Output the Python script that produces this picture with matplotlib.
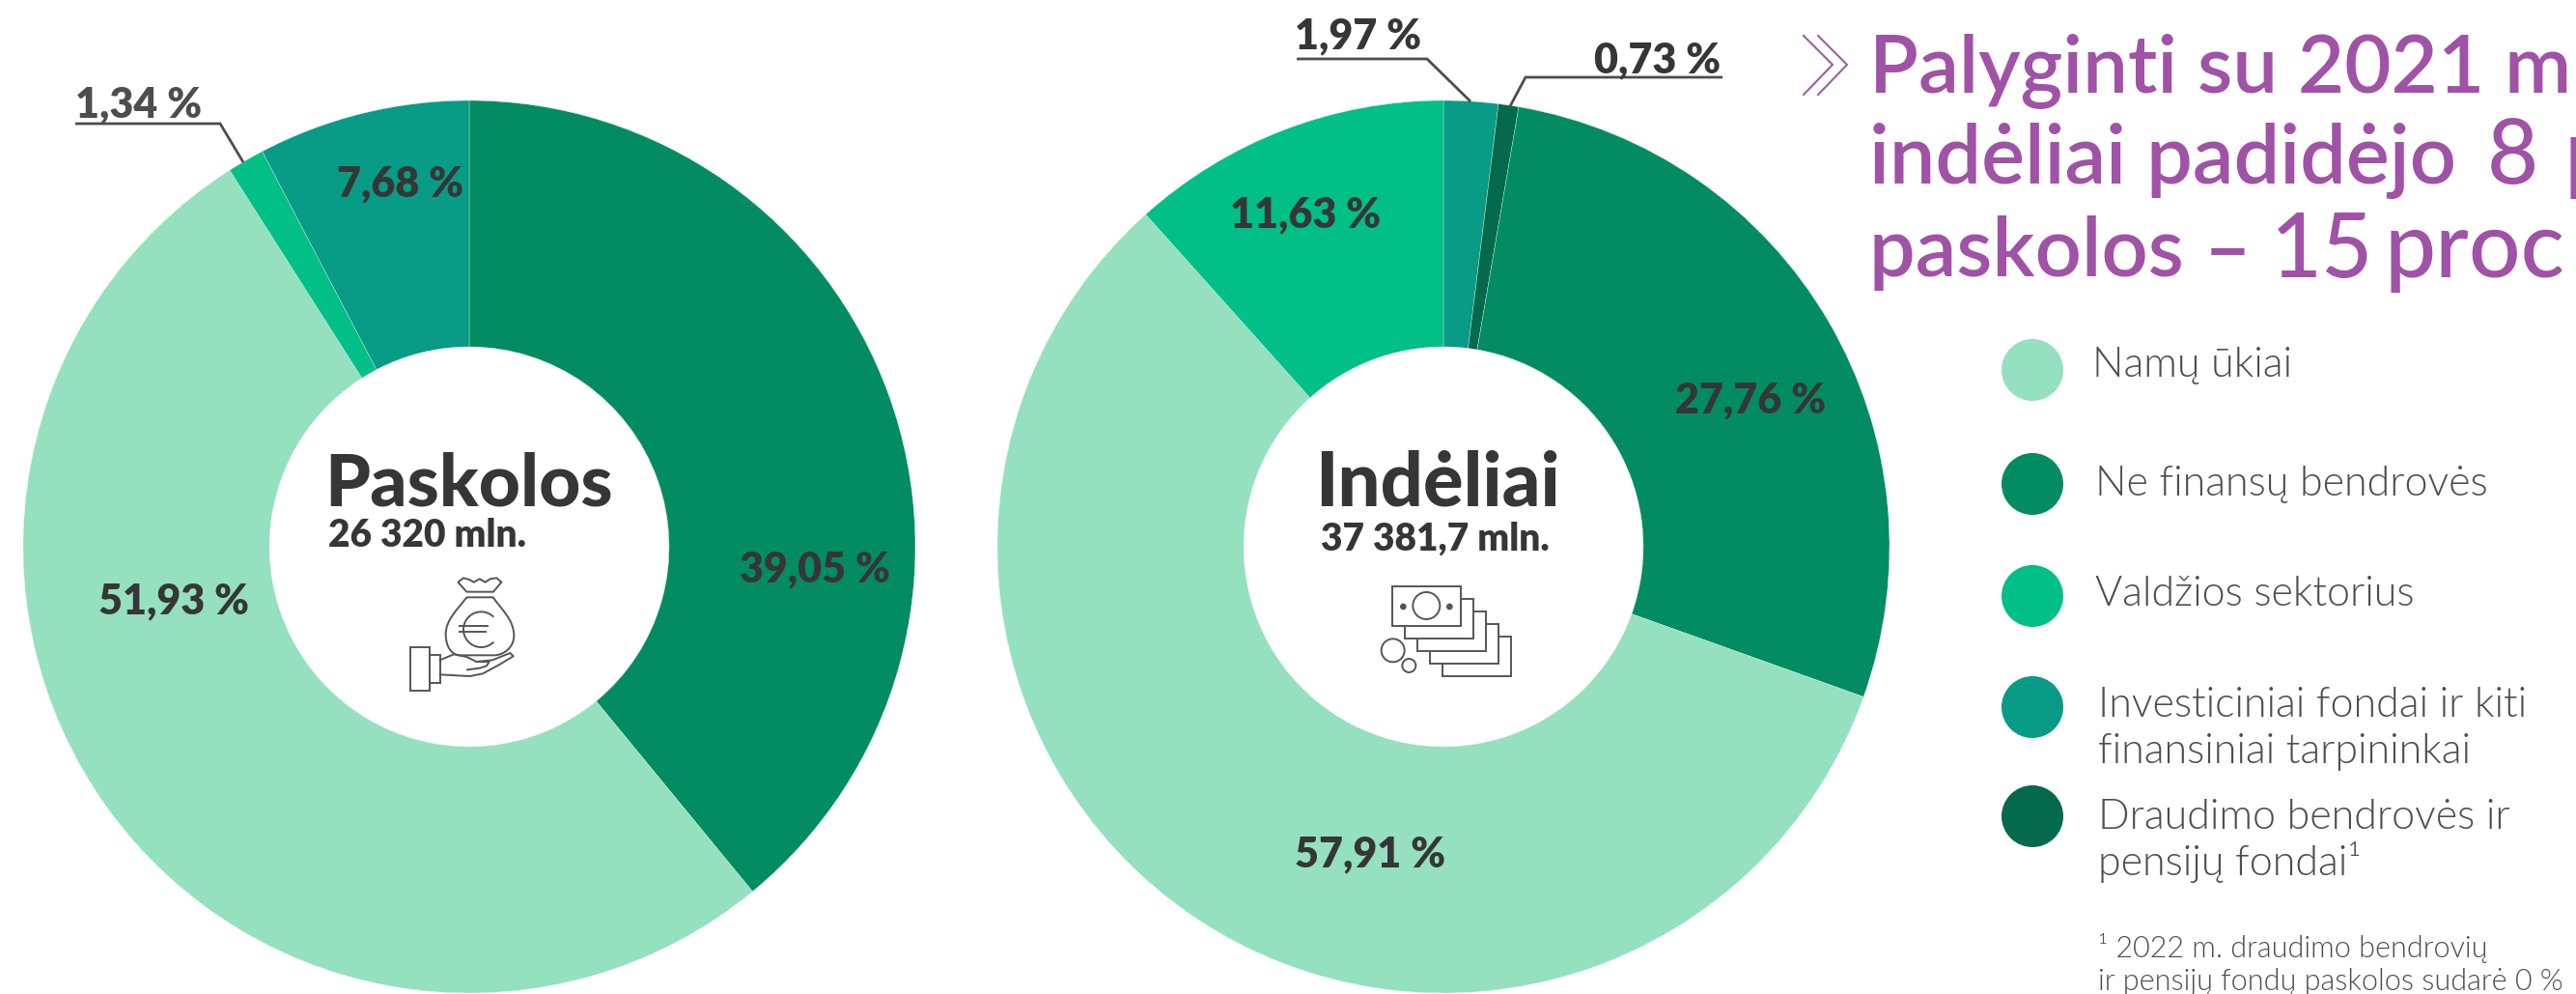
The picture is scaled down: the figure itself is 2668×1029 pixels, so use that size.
import matplotlib
matplotlib.use("Agg")
import matplotlib.pyplot as plt
from matplotlib.patches import Circle, Rectangle, Arc, PathPatch
from matplotlib.path import Path

W, H = 2668, 1029

categories = ["Namų ūkiai", "Ne finansų bendrovės", "Valdžios sektorius",
              "Investiciniai fondai ir kiti\nfinansiniai tarpininkai",
              "Draudimo bendrovės ir\npensijų fondai¹"]
colors = ["#94E0BF", "#038C62", "#00BF87", "#089B86", "#046A4B"]

# clockwise from 12 o'clock, indexes go into categories/colors
loan_values = [39.05, 51.93, 1.34, 7.68]
loan_cats = [1, 0, 2, 3]
deposit_values = [1.97, 0.73, 27.76, 57.91, 11.63]
deposit_cats = [3, 4, 1, 0, 2]

footnote = ["¹ 2022 m. draudimo bendrovių", "ir pensijų fondų paskolos sudarė 0 %"]

DARK = "#363636"
LINE = "#4D4D4D"
ICON = "#555555"
PURPLE = "#A052A6"
FONT = "Lato"


def pct(v):
    return f"{v:.2f}".replace(".", ",") + " %"


def donut(cx, cy, r, hole, values, cats):
    ax = fig.add_axes([(cx - r) / W, 1 - (cy + r) / H, 2 * r / W, 2 * r / H])
    ax.pie(values, colors=[colors[c] for c in cats], startangle=90, counterclock=False,
           radius=1, wedgeprops=dict(width=1 - hole / r, edgecolor="#D8F2E6", linewidth=0.25))
    ax.set_xlim(-1, 1)
    ax.set_ylim(-1, 1)
    ax.axis("off")


def label(x, y, s, size=31, color=DARK, weight=800, ha="left"):
    ov.text(x, y, s, fontsize=size, color=color, fontweight=weight, family=FONT, ha=ha, va="baseline")


def leader(xs, ys):
    ov.plot(xs, ys, color=LINE, lw=2.0, solid_capstyle="butt", solid_joinstyle="miter")


def money_bag(ox, oy):
    def p(x, y):
        return (ox + x / 3, oy + y / 3)
    st = dict(fill=False, edgecolor=ICON, lw=1.4)
    knot = [(583, 548), (600, 535), (618, 540), (632, 548), (650, 538), (668, 548),
            (683, 538), (703, 535), (718, 548), (693, 578), (610, 578), (583, 548)]
    ov.add_patch(PathPatch(Path([p(*k) for k in knot]), **st))
    verts = [(610, 595), (692, 595), (720, 635), (757, 665), (757, 715),
             (757, 750), (725, 775), (695, 775), (590, 775),
             (565, 775), (545, 750), (545, 710), (545, 665), (580, 635), (610, 595)]
    codes = [1, 2, 4, 4, 4, 4, 4, 4, 2, 4, 4, 4, 4, 4, 4]
    ov.add_patch(PathPatch(Path([p(*v) for v in verts], codes), **st))
    cx, cy = p(655, 695)
    ov.add_patch(Arc((cx, cy), 110 / 3, 110 / 3, theta1=45, theta2=315, color=ICON, lw=1.4))
    ov.plot(*zip(p(588, 685), p(675, 685)), color=ICON, lw=1.4)
    ov.plot(*zip(p(588, 703), p(668, 703)), color=ICON, lw=1.4)
    # hand and cuff
    ov.add_patch(Rectangle(p(435, 750), 20, 45, **st))
    ov.add_patch(Rectangle(p(495, 775), 32 / 3, 85 / 3, **st))
    palm = [(527, 790), (570, 772), (610, 780), (640, 795), (680, 795), (672, 808), (650, 815),
            (612, 820)]
    ov.plot(*zip(*[p(*v) for v in palm]), color=ICON, lw=1.4)
    fingers = [(640, 795), (690, 790), (745, 768), (755, 778), (710, 805), (660, 832),
               (620, 840), (527, 835)]
    ov.plot(*zip(*[p(*v) for v in fingers]), color=ICON, lw=1.4)


def banknotes(ox, oy):
    def p(x, y):
        return (ox + x / 3, oy + y / 3)
    st = dict(facecolor="white", edgecolor=ICON, lw=1.4)
    for i in [4, 3, 2, 1, 0]:
        ov.add_patch(Rectangle(p(485 + 39 * i, 560 + 39 * i), 215 / 3, 124 / 3, **st))
    ov.add_patch(Circle(p(592, 621), 42 / 3, fill=False, edgecolor=ICON, lw=1.4))
    ov.add_patch(Circle(p(520, 624), 8 / 3, color=ICON))
    ov.add_patch(Circle(p(664, 624), 8 / 3, color=ICON))
    ov.add_patch(Circle(p(488, 760), 36 / 3, fill=False, edgecolor=ICON, lw=1.4))
    ov.add_patch(Circle(p(538, 807), 21 / 3, fill=False, edgecolor=ICON, lw=1.4))


fig = plt.figure(figsize=(W / 100, H / 100), dpi=100, facecolor="white")

donut(486, 566, 462, 207, loan_values, loan_cats)
donut(1495, 566, 462, 207, deposit_values, deposit_cats)

ov = fig.add_axes([0, 0, 1, 1], facecolor="none")
ov.set_xlim(0, W)
ov.set_ylim(H, 0)
ov.axis("off")

# loans labels
label(766, 602, pct(loan_values[0]))
label(102, 635, pct(loan_values[1]))
label(78, 121, pct(loan_values[2]), color=LINE)
label(349, 203, pct(loan_values[3]))
leader([78, 228, 252], [128, 128, 168])

# deposits labels
label(1341, 50, pct(deposit_values[0]))
label(1651, 75, pct(deposit_values[1]))
label(1735, 427, pct(deposit_values[2]))
label(1341, 897, pct(deposit_values[3]))
label(1274, 235, pct(deposit_values[4]))
leader([1343, 1478, 1523], [61, 61, 105])
leader([1784, 1580, 1564], [80, 80, 110])

# centre captions
label(336, 523, "Paskolos", size=54, weight=900)
label(340, 566, "26 320 mln.", size=28)
label(1362, 524, "Indėliai", size=56, weight=900)
label(1368, 570, "37 381,7 mln.", size=28)
money_bag(280, 420)
banknotes(1280, 420)

# headline, the end of lines 2 and 3 is set larger
for x in [1868, 1883]:
    ov.plot([x, x + 30, x], [37, 67, 98], color="#9A5FA0", lw=1.5)
label(1936, 95, "Palyginti su 2021 m", size=60, color=PURPLE, weight=600)
label(1936, 190, "indėliai padidėjo", size=61, color=PURPLE, weight=600)
label(2576, 190, "8", size=66, color=PURPLE, weight=500)
label(2656, 190, "p", size=68, color=PURPLE, weight=500)
label(1936, 286, "paskolos –", size=61, color=PURPLE, weight=600)
label(2352, 287, "15", size=66, color=PURPLE, weight=500)
label(2470, 287, "proc", size=68, color=PURPLE, weight=500)

# legend
swatch_y = [383, 501, 617, 732, 845]
text_x = [2167, 2170, 2170, 2173, 2173]
text_y = [[390], [513], [627], [742, 790], [858, 906]]
for i, cat in enumerate(categories):
    ov.add_patch(Circle((2105, swatch_y[i]), 32, color=colors[i], lw=0))
    for line, y in zip(cat.split("\n"), text_y[i]):
        label(text_x[i], y, line, size=31, color=LINE, weight=300)
label(2173, 991, footnote[0], size=22, color=LINE, weight=300)
label(2173, 1025, footnote[1], size=22, color=LINE, weight=300)

fig.savefig("out.png", dpi=100, facecolor="white")
